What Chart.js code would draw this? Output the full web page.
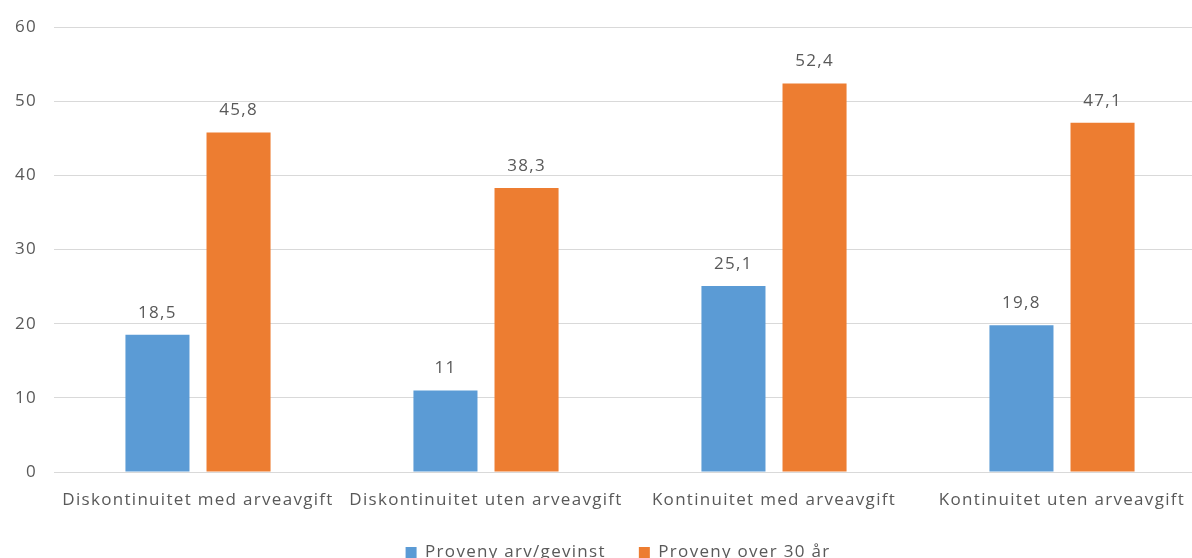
<!DOCTYPE html>
<html>
<head>
<meta charset="utf-8">
<script src="https://cdn.jsdelivr.net/npm/chart.js@4/dist/chart.umd.min.js"></script>
<style>
  html, body { margin: 0; padding: 0; background: #fff; overflow: hidden; }
  #wrap { width: 1192px; height: 558px; overflow: hidden; }
</style>
</head>
<body>
<div id="wrap"><canvas id="chart" width="1208" height="571"></canvas></div>
<script>
const categories = [
  'Diskontinuitet med arveavgift',
  'Diskontinuitet uten arveavgift',
  'Kontinuitet med arveavgift',
  'Kontinuitet uten arveavgift'
]
const arvGevinst = [18.5, 11, 25.1, 19.8]
const over30Aar = [45.8, 38.3, 52.4, 47.1]
const yTicks = [0, 10, 20, 30, 40, 50, 60]

const textColor = '#595959'
const fontFamily = '"Open Sans", Lato, sans-serif'
Chart.defaults.font.family = fontFamily
Chart.defaults.font.size = 17
Chart.defaults.color = textColor

// the original text is set quite loose, widen it a bit
const spacing = {
  id: 'spacing',
  beforeUpdate(chart) { chart.ctx.letterSpacing = '1.3px' },
  beforeDraw(chart) { chart.ctx.letterSpacing = '1.3px' }
}

// values above each bar, norwegian decimal comma
const valueLabels = {
  id: 'valueLabels',
  afterDatasetsDraw(chart) {
    const ctx = chart.ctx
    ctx.save()
    ctx.font = '17px ' + fontFamily
    ctx.fillStyle = textColor
    ctx.textAlign = 'center'
    ctx.textBaseline = 'middle'
    chart.data.datasets.forEach((ds, i) => {
      chart.getDatasetMeta(i).data.forEach((bar, j) => {
        ctx.fillText(String(ds.data[j]).replace('.', ','), bar.x, bar.y - 22)
      })
    })
    ctx.restore()
  }
}

// nudge the legend to where the original sits
const legendShift = {
  id: 'legendShift',
  afterLayout(chart) {
    chart.legend.left += 15
    chart.legend.right += 15
  }
}

new Chart(document.getElementById('chart'), {
  type: 'bar',
  data: {
    labels: categories,
    datasets: [
      { label: 'Proveny arv/gevinst', data: arvGevinst, backgroundColor: '#5B9BD5' },
      { label: 'Proveny over 30 år', data: over30Aar, backgroundColor: '#ED7D31' }
    ]
  },
  options: {
    responsive: false,
    animation: false,
    categoryPercentage: 0.563,
    barPercentage: 0.79,
    layout: { padding: { top: 27, right: 2, left: 0, bottom: 0 } },
    plugins: {
      tooltip: { enabled: false },
      legend: {
        position: 'bottom',
        labels: { boxWidth: 11, boxHeight: 11, padding: 33, font: { size: 17 } }
      }
    },
    scales: {
      x: {
        grid: { display: false },
        border: { display: false },
        ticks: { padding: 10, maxRotation: 0, autoSkip: false },
        afterFit(scale) { scale.height = 39 }
      },
      y: {
        min: 0,
        max: 60,
        grid: { color: '#d9d9d9', drawTicks: false },
        border: { display: false },
        ticks: { stepSize: 10, padding: 17 },
        afterBuildTicks(scale) { scale.ticks = yTicks.map(v => ({ value: v })) },
        afterFit(scale) { scale.width = 54 }
      }
    }
  },
  plugins: [spacing, valueLabels, legendShift]
})
</script>
</body>
</html>
